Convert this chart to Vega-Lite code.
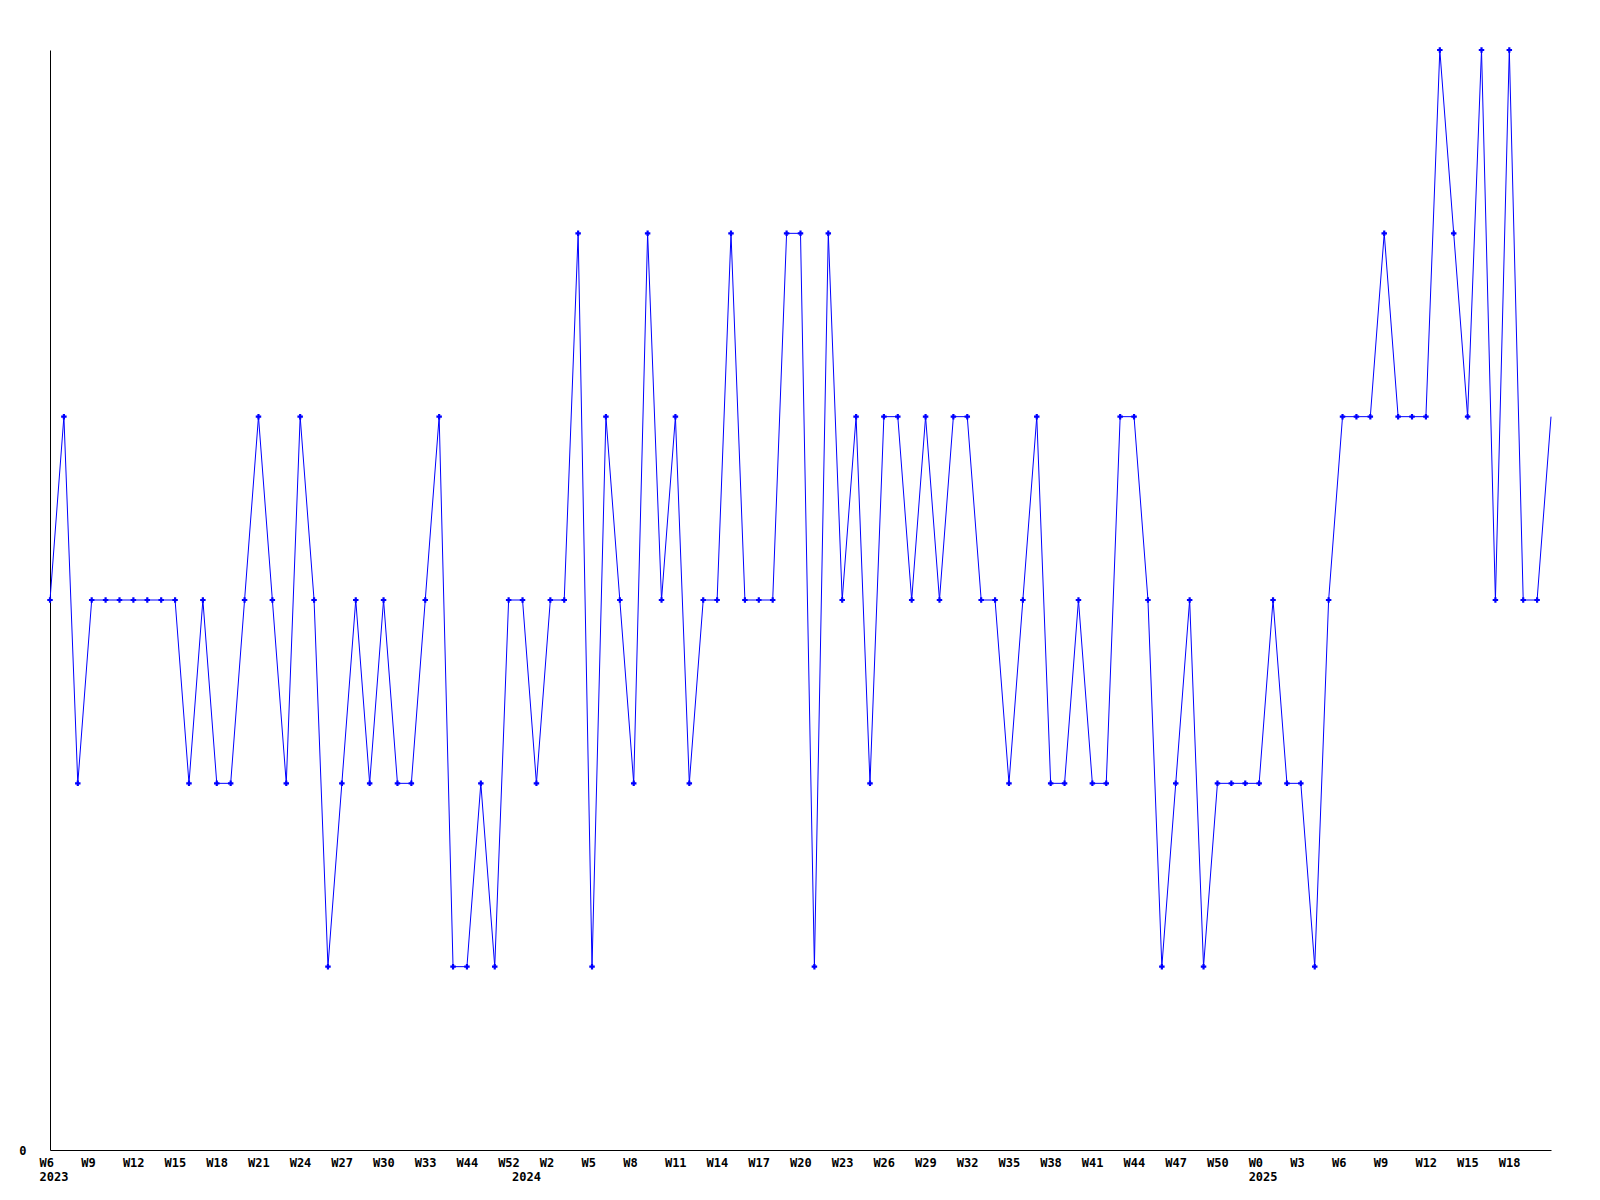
{
  "$schema": "https://vega.github.io/schema/vega-lite/v6.json",
  "autosize": "none",
  "width": 1501,
  "height": 1100,
  "padding": {"left": 50, "top": 50, "right": 49, "bottom": 50},
  "background": "white",
  "config": {
    "view": {"stroke": null},
    "axis": {
      "labelFont": "DejaVu Sans Mono",
      "labelFontWeight": "bold",
      "labelFontSize": 12,
      "labelColor": "black",
      "domainColor": "black",
      "grid": false,
      "ticks": false,
      "tickSize": 0,
      "title": null
    }
  },
  "data": {
    "values": [
      {"week": "2023 W6", "count": 3}, {"week": "2023 W7", "count": 4}, {"week": "2023 W8", "count": 2},
      {"week": "2023 W9", "count": 3}, {"week": "2023 W10", "count": 3}, {"week": "2023 W11", "count": 3},
      {"week": "2023 W12", "count": 3}, {"week": "2023 W13", "count": 3}, {"week": "2023 W14", "count": 3},
      {"week": "2023 W15", "count": 3}, {"week": "2023 W16", "count": 2}, {"week": "2023 W17", "count": 3},
      {"week": "2023 W18", "count": 2}, {"week": "2023 W19", "count": 2}, {"week": "2023 W20", "count": 3},
      {"week": "2023 W21", "count": 4}, {"week": "2023 W22", "count": 3}, {"week": "2023 W23", "count": 2},
      {"week": "2023 W24", "count": 4}, {"week": "2023 W25", "count": 3}, {"week": "2023 W26", "count": 1},
      {"week": "2023 W27", "count": 2}, {"week": "2023 W28", "count": 3}, {"week": "2023 W29", "count": 2},
      {"week": "2023 W30", "count": 3}, {"week": "2023 W31", "count": 2}, {"week": "2023 W32", "count": 2},
      {"week": "2023 W33", "count": 3}, {"week": "2023 W34", "count": 4}, {"week": "2023 W43", "count": 1},
      {"week": "2023 W44", "count": 1}, {"week": "2023 W45", "count": 2}, {"week": "2023 W51", "count": 1},
      {"week": "2023 W52", "count": 3}, {"week": "2024 W0", "count": 3}, {"week": "2024 W1", "count": 2},
      {"week": "2024 W2", "count": 3}, {"week": "2024 W3", "count": 3}, {"week": "2024 W4", "count": 5},
      {"week": "2024 W5", "count": 1}, {"week": "2024 W6", "count": 4}, {"week": "2024 W7", "count": 3},
      {"week": "2024 W8", "count": 2}, {"week": "2024 W9", "count": 5}, {"week": "2024 W10", "count": 3},
      {"week": "2024 W11", "count": 4}, {"week": "2024 W12", "count": 2}, {"week": "2024 W13", "count": 3},
      {"week": "2024 W14", "count": 3}, {"week": "2024 W15", "count": 5}, {"week": "2024 W16", "count": 3},
      {"week": "2024 W17", "count": 3}, {"week": "2024 W18", "count": 3}, {"week": "2024 W19", "count": 5},
      {"week": "2024 W20", "count": 5}, {"week": "2024 W21", "count": 1}, {"week": "2024 W22", "count": 5},
      {"week": "2024 W23", "count": 3}, {"week": "2024 W24", "count": 4}, {"week": "2024 W25", "count": 2},
      {"week": "2024 W26", "count": 4}, {"week": "2024 W27", "count": 4}, {"week": "2024 W28", "count": 3},
      {"week": "2024 W29", "count": 4}, {"week": "2024 W30", "count": 3}, {"week": "2024 W31", "count": 4},
      {"week": "2024 W32", "count": 4}, {"week": "2024 W33", "count": 3}, {"week": "2024 W34", "count": 3},
      {"week": "2024 W35", "count": 2}, {"week": "2024 W36", "count": 3}, {"week": "2024 W37", "count": 4},
      {"week": "2024 W38", "count": 2}, {"week": "2024 W39", "count": 2}, {"week": "2024 W40", "count": 3},
      {"week": "2024 W41", "count": 2}, {"week": "2024 W42", "count": 2}, {"week": "2024 W43", "count": 4},
      {"week": "2024 W44", "count": 4}, {"week": "2024 W45", "count": 3}, {"week": "2024 W46", "count": 1},
      {"week": "2024 W47", "count": 2}, {"week": "2024 W48", "count": 3}, {"week": "2024 W49", "count": 1},
      {"week": "2024 W50", "count": 2}, {"week": "2024 W51", "count": 2}, {"week": "2024 W52", "count": 2},
      {"week": "2025 W0", "count": 2}, {"week": "2025 W1", "count": 3}, {"week": "2025 W2", "count": 2},
      {"week": "2025 W3", "count": 2}, {"week": "2025 W4", "count": 1}, {"week": "2025 W5", "count": 3},
      {"week": "2025 W6", "count": 4}, {"week": "2025 W7", "count": 4}, {"week": "2025 W8", "count": 4},
      {"week": "2025 W9", "count": 5}, {"week": "2025 W10", "count": 4}, {"week": "2025 W11", "count": 4},
      {"week": "2025 W12", "count": 4}, {"week": "2025 W13", "count": 6}, {"week": "2025 W14", "count": 5},
      {"week": "2025 W15", "count": 4}, {"week": "2025 W16", "count": 6}, {"week": "2025 W17", "count": 3},
      {"week": "2025 W18", "count": 6}, {"week": "2025 W19", "count": 3}, {"week": "2025 W20", "count": 3},
      {"week": "2025 W21", "count": 4}
    ]
  },
  "resolve": {"axis": {"x": "independent"}},
  "layer": [
    {
      "mark": {"type": "line", "color": "#0000ff", "strokeWidth": 1},
      "encoding": {
        "x": {
          "field": "week", "type": "nominal", "sort": null,
          "scale": {"type": "point", "padding": 0},
          "axis": {
            "orient": "bottom",
            "values": ["2023 W6", "2023 W9", "2023 W12", "2023 W15", "2023 W18", "2023 W21", "2023 W24", "2023 W27", "2023 W30", "2023 W33", "2023 W44", "2023 W52",
                       "2024 W2", "2024 W5", "2024 W8", "2024 W11", "2024 W14", "2024 W17", "2024 W20", "2024 W23", "2024 W26", "2024 W29", "2024 W32", "2024 W35", "2024 W38", "2024 W41", "2024 W44", "2024 W47", "2024 W50",
                       "2025 W0", "2025 W3", "2025 W6", "2025 W9", "2025 W12", "2025 W15", "2025 W18"],
            "labelExpr": "split(datum.value, ' ')[1]",
            "labelAlign": "left",
            "labelOffset": -11,
            "labelAngle": 0,
            "labelPadding": 7,
            "labelBaseline": "top",
            "domain": true,
            "labelOverlap": false
          }
        },
        "y": {
          "field": "count", "type": "quantitative",
          "scale": {"domain": [0, 6], "nice": false, "zero": true},
          "axis": {"values": [0], "format": "d", "labelPadding": 24, "domain": true}
        }
      }
    },
    {
      "mark": {"type": "point", "shape": "cross", "filled": true, "color": "#0000ff", "size": 30, "opacity": 1},
      "encoding": {
        "x": {
          "field": "week", "type": "nominal", "sort": null,
          "scale": {"type": "point", "padding": 0},
          "axis": {
            "orient": "bottom",
            "values": ["2023 W6", "2024 W0", "2025 W0"],
            "labelExpr": "split(datum.value, ' ')[0]",
            "labelAlign": "left",
            "labelOffset": -11,
            "labelAngle": 0,
            "labelPadding": 21,
            "labelBaseline": "top",
            "domain": false,
            "labelOverlap": false
          }
        },
        "y": {"field": "count", "type": "quantitative"},
        "opacity": {"condition": {"test": "datum.week == '2025 W21'", "value": 0}, "value": 1}
      }
    }
  ]
}
